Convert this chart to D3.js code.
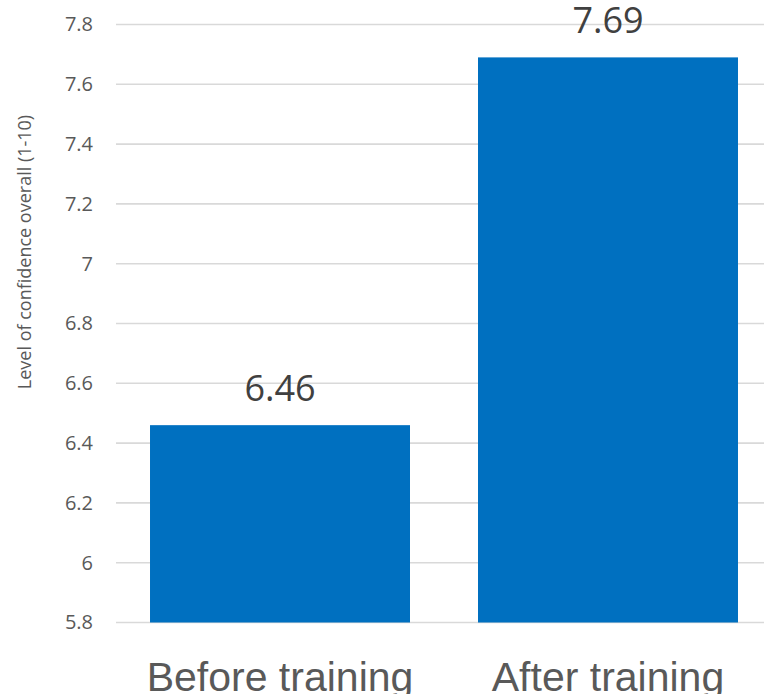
<!DOCTYPE html>
<html>
<head>
<meta charset="utf-8">
<script src="https://cdn.jsdelivr.net/npm/d3@7/dist/d3.min.js"></script>
<style>
  html, body { margin: 0; padding: 0; background: #ffffff; }
  svg { display: block; }
</style>
</head>
<body>
<svg id="chart" width="764" height="694"></svg>
<script>
// Chart data
const categories = ["Before training", "After training"];
const values = [6.46, 7.69];
const yTicks = [5.8, 6, 6.2, 6.4, 6.6, 6.8, 7, 7.2, 7.4, 7.6, 7.8];
const yTickLabels = ["5.8", "6", "6.2", "6.4", "6.6", "6.8", "7", "7.2", "7.4", "7.6", "7.8"];
const yAxisTitle = "Level of confidence overall (1-10)";

const svg = d3.select("#chart");
const textColor = "#595959";
const uiFont = "'Open Sans', 'DejaVu Sans', sans-serif";

const plotLeft = 116, plotRight = 772;
const y = d3.scaleLinear().domain([5.8, 7.8]).range([622.5, 24.5]);
const x = d3.scaleBand()
  .domain(categories)
  .range([plotLeft, plotRight])
  .paddingInner(68 / 328)
  .paddingOuter(0.1037);

// Horizontal gridlines
svg.append("g")
  .selectAll("line")
  .data(yTicks)
  .join("line")
  .attr("x1", plotLeft)
  .attr("x2", plotRight)
  .attr("y1", d => y(d))
  .attr("y2", d => y(d))
  .attr("stroke", "#d9d9d9")
  .attr("stroke-width", 1.6);

// Y axis tick labels
const yAxis = d3.axisLeft(y)
  .tickValues(yTicks)
  .tickFormat((d, i) => yTickLabels[i])
  .tickSize(0)
  .tickPadding(0);
const yAxisG = svg.append("g")
  .attr("transform", "translate(93,0)")
  .call(yAxis);
yAxisG.select(".domain").remove();
yAxisG.selectAll("text")
  .attr("fill", textColor)
  .style("font-family", uiFont)
  .style("font-size", "20px");

// Bars
svg.append("g")
  .selectAll("rect")
  .data(values)
  .join("rect")
  .attr("x", (d, i) => x(categories[i]))
  .attr("width", x.bandwidth())
  .attr("y", d => y(d))
  .attr("height", d => y(5.8) - y(d))
  .attr("fill", "#0070c0");

// Value labels above bars
svg.append("g")
  .selectAll("text")
  .data(values)
  .join("text")
  .attr("x", (d, i) => x(categories[i]) + x.bandwidth() / 2)
  .attr("y", d => y(d) - 24)
  .attr("text-anchor", "middle")
  .attr("fill", "#404040")
  .style("font-family", uiFont)
  .style("font-size", "36px")
  .text(d => d.toFixed(2));

// Category labels
const xAxis = d3.axisBottom(x).tickSize(0).tickPadding(0);
const xAxisG = svg.append("g")
  .attr("transform", "translate(0,691)")
  .call(xAxis);
xAxisG.select(".domain").remove();
xAxisG.selectAll("text")
  .attr("dy", 0)
  .attr("y", 0)
  .attr("fill", textColor)
  .style("font-family", "'Liberation Sans', Arial, sans-serif")
  .style("font-size", "41px");

// Y axis title
svg.append("text")
  .attr("transform", "translate(31,252) rotate(-90)")
  .attr("text-anchor", "middle")
  .attr("fill", textColor)
  .style("font-family", uiFont)
  .style("font-size", "18px")
  .text(yAxisTitle);
</script>
</body>
</html>
